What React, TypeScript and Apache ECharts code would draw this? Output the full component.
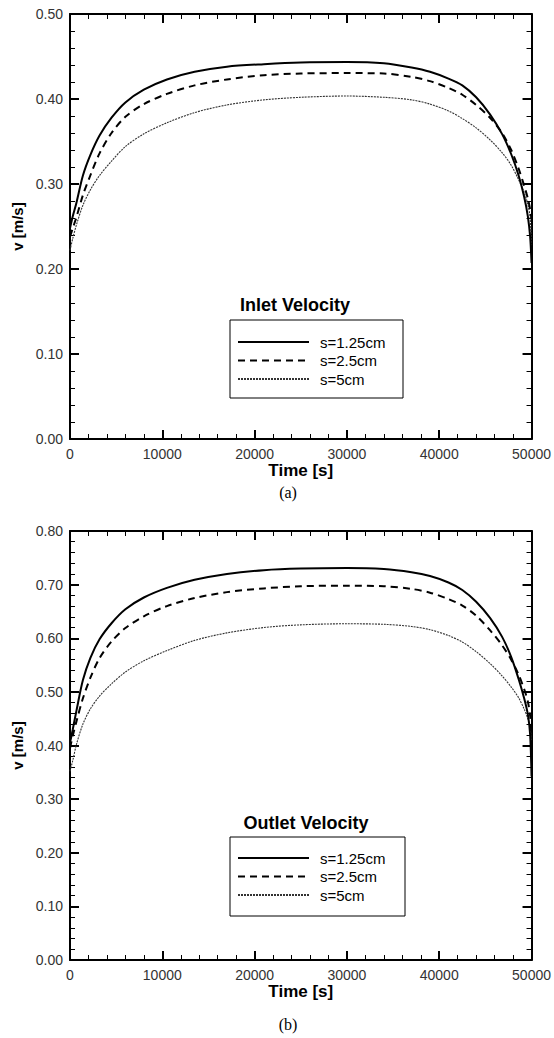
import React, { useEffect, useRef } from "react";
import * as echarts from "echarts";

// time [s]
const time = [0, 300, 700, 1400, 2200, 3200, 4500, 6000, 8000, 10500, 13500, 17000, 21000, 25000, 30000, 34000, 37000, 39000, 41000, 42500, 44000, 45500, 46800, 47800, 48600, 49200, 49600, 49850, 50000];

const seriesNames = ["s=1.25cm", "s=2.5cm", "s=5cm"];

// (a) inlet velocity [m/s]
const inlet125 = [0.248, 0.262, 0.278, 0.31, 0.334, 0.357, 0.378, 0.396, 0.411, 0.423, 0.432, 0.438, 0.441, 0.443, 0.4435, 0.442, 0.437, 0.432, 0.424, 0.416, 0.402, 0.382, 0.359, 0.335, 0.31, 0.285, 0.262, 0.238, 0.207];
const inlet25 = [0.238, 0.248, 0.261, 0.287, 0.31, 0.336, 0.36, 0.379, 0.394, 0.406, 0.416, 0.423, 0.428, 0.43, 0.4305, 0.43, 0.426, 0.421, 0.413, 0.405, 0.393, 0.378, 0.36, 0.34, 0.318, 0.298, 0.283, 0.27, 0.258];
const inlet5 = [0.222, 0.236, 0.252, 0.275, 0.293, 0.31, 0.327, 0.344, 0.359, 0.372, 0.384, 0.393, 0.399, 0.402, 0.4035, 0.402, 0.399, 0.394, 0.386, 0.377, 0.366, 0.352, 0.337, 0.322, 0.305, 0.29, 0.276, 0.26, 0.228];

// (b) outlet velocity [m/s]
const outlet125 = [0.405, 0.43, 0.465, 0.522, 0.563, 0.598, 0.628, 0.654, 0.676, 0.694, 0.709, 0.72, 0.727, 0.73, 0.731, 0.729, 0.723, 0.716, 0.704, 0.69, 0.668, 0.638, 0.603, 0.565, 0.524, 0.488, 0.458, 0.42, 0.342];
const outlet25 = [0.395, 0.418, 0.445, 0.488, 0.526, 0.563, 0.594, 0.619, 0.641, 0.66, 0.675, 0.686, 0.693, 0.697, 0.698, 0.697, 0.692, 0.685, 0.673, 0.661, 0.642, 0.615, 0.587, 0.56, 0.532, 0.505, 0.482, 0.455, 0.417];
const outlet5 = [0.352, 0.372, 0.402, 0.44, 0.468, 0.492, 0.515, 0.537, 0.558, 0.577, 0.596, 0.61, 0.62, 0.625, 0.627, 0.626, 0.622, 0.616, 0.605, 0.593, 0.575, 0.553, 0.53, 0.509, 0.489, 0.468, 0.45, 0.432, 0.41];

const panelTitles = ["Inlet Velocity", "Outlet Velocity"];
const captions = ["(a)", "(b)"];
const xName = "Time [s]";
const yName = "v [m/s]";
const yMaxes = [0.5, 0.8];

const FONT = "Arial, 'Liberation Sans', sans-serif";

const lineStyles = [
  { color: "#000", width: 2, type: "solid" as any },
  { color: "#000", width: 2, type: [7, 5] as any },
  { color: "#333", width: 1.1, type: [2, 1] as any },
];

const grids = [
  { left: 70, top: 14, width: 463, height: 425 },
  { left: 70, top: 531, width: 463, height: 429 },
];

export default function App() {
  const ref = useRef<HTMLDivElement>(null);
  useEffect(() => {
    if (!ref.current) return;
    const chart = echarts.init(ref.current, undefined, { renderer: "svg" });

    const axisCommon = {
      type: "value" as const,
      axisLine: { show: true, onZero: false, lineStyle: { color: "#000", width: 2 } },
      axisTick: { show: true, inside: true, length: 9, lineStyle: { color: "#000", width: 2 } },
      minorTick: { show: true, splitNumber: 5, length: 5, lineStyle: { color: "#000", width: 1 } },
      splitLine: { show: false },
      minorSplitLine: { show: false },
    };

    const xAxis: any[] = [];
    const yAxis: any[] = [];
    grids.forEach((_, gi) => {
      xAxis.push({
        ...axisCommon,
        gridIndex: gi,
        position: "bottom",
        min: 0,
        max: 50000,
        interval: 10000,
        name: xName,
        nameLocation: "middle",
        nameGap: 19,
        nameTextStyle: { fontFamily: FONT, fontWeight: "bold", fontSize: 17, color: "#000" },
        axisLabel: {
          show: true,
          fontFamily: FONT,
          fontSize: 14,
          color: "#333",
          margin: 8,
          formatter: (v: number) => String(v),
        },
      });
      xAxis.push({
        ...axisCommon,
        gridIndex: gi,
        position: "top",
        min: 0,
        max: 50000,
        interval: 10000,
        axisLabel: { show: false },
      });
      yAxis.push({
        ...axisCommon,
        gridIndex: gi,
        position: "left",
        min: 0,
        max: yMaxes[gi],
        interval: 0.1,
        name: yName,
        nameLocation: "middle",
        nameRotate: 90,
        nameGap: 38,
        nameTextStyle: { fontFamily: FONT, fontWeight: "bold", fontSize: 15, color: "#000" },
        axisLabel: {
          show: true,
          fontFamily: FONT,
          fontSize: 14,
          color: "#333",
          margin: 7,
          formatter: (v: number) => v.toFixed(2),
        },
      });
      yAxis.push({
        ...axisCommon,
        gridIndex: gi,
        position: "right",
        min: 0,
        max: yMaxes[gi],
        interval: 0.1,
        axisLabel: { show: false },
      });
    });

    const panelData = [
      [inlet125, inlet25, inlet5],
      [outlet125, outlet25, outlet5],
    ];

    const series: any[] = [];
    panelData.forEach((arrs, gi) => {
      arrs.forEach((arr, si) => {
        series.push({
          type: "line",
          name: seriesNames[si],
          xAxisIndex: gi * 2,
          yAxisIndex: gi * 2,
          data: time.map((t, i) => [t, arr[i]]),
          showSymbol: false,
          symbol: "none",
          smooth: 0.3,
          lineStyle: lineStyles[si],
          itemStyle: { color: lineStyles[si].color },
          z: 3 - si,
        });
      });
    });

    const legendTops = [333, 849];
    const legend = legendTops.map((top) => ({
      data: seriesNames,
      left: 237,
      top,
      orient: "vertical",
      itemWidth: 71,
      itemHeight: 14,
      itemGap: 0.5,
      padding: 0,
      z: 10,
      selectedMode: false,
      itemStyle: { opacity: 0 },
      textStyle: { fontFamily: FONT, fontSize: 15, color: "#000", lineHeight: 18, padding: [0, 0, 0, 6] },
    }));

    const boxes = [
      { x: 230, y: 320, w: 173, h: 78, tx: 295, ty: 305 },
      { x: 230, y: 837, w: 175, h: 79, tx: 306, ty: 823 },
    ];
    const capY = [492, 1024];

    const graphic: any[] = [];
    boxes.forEach((b, i) => {
      graphic.push({
        type: "rect",
        shape: { x: b.x, y: b.y, width: b.w, height: b.h },
        style: { fill: "none", stroke: "#000", lineWidth: 1 },
        z: 1,
      });
      graphic.push({
        type: "text",
        x: b.tx,
        y: b.ty,
        style: {
          text: panelTitles[i],
          fontFamily: FONT,
          fontWeight: "bold",
          fontSize: 18,
          fill: "#000",
          align: "center",
          verticalAlign: "middle",
        },
        z: 5,
      });
      graphic.push({
        type: "text",
        x: 288,
        y: capY[i],
        style: {
          text: captions[i],
          fontFamily: "'Liberation Serif', 'Times New Roman', serif",
          fontSize: 16,
          fill: "#000",
          align: "center",
          verticalAlign: "middle",
        },
        z: 5,
      });
    });

    chart.setOption({
      animation: false,
      backgroundColor: "#fff",
      grid: grids.map((g) => ({ ...g, containLabel: false })),
      xAxis,
      yAxis,
      series,
      legend: legend as any,
      graphic,
    });
    return () => chart.dispose();
  }, []);
  return (
    <div
      ref={ref}
      style={{ position: "fixed", left: 0, top: 0, width: 554, height: 1038, background: "#fff" }}
    />
  );
}
